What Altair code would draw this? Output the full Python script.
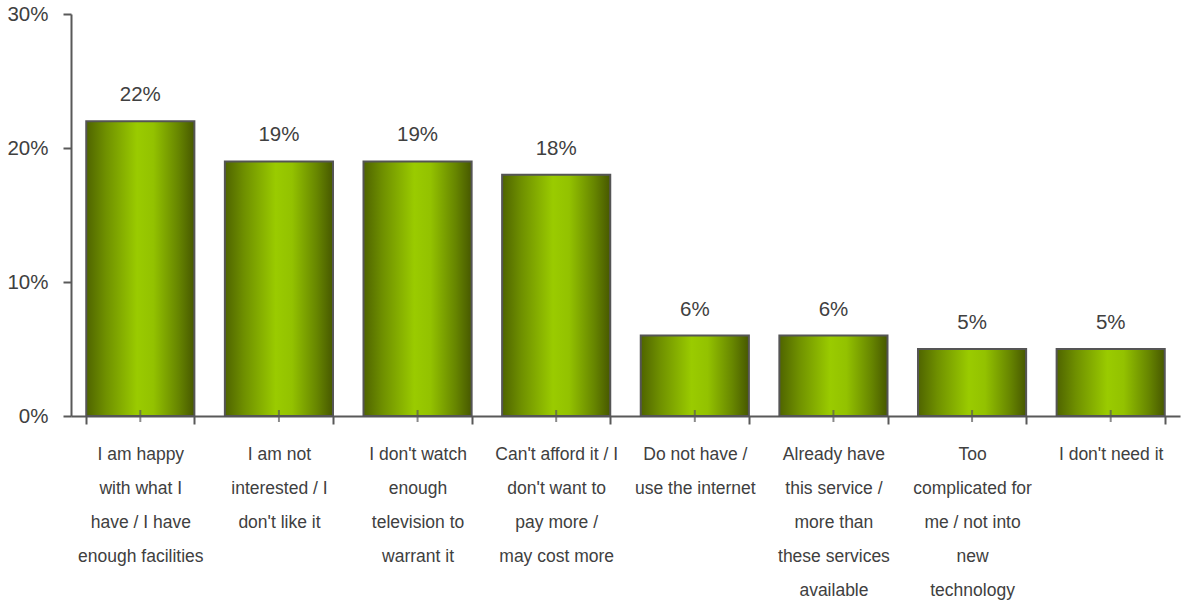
import altair as alt
import pandas as pd

categories = [
    "I am happy\nwith what I\nhave / I have\nenough facilities",
    "I am not\ninterested / I\ndon't like it",
    "I don't watch\nenough\ntelevision to\nwarrant it",
    "Can't afford it / I\ndon't want to\npay more /\nmay cost more",
    "Do not have /\nuse the internet",
    "Already have\nthis service /\nmore than\nthese services\navailable",
    "Too\ncomplicated for\nme / not into\nnew\ntechnology",
    "I don't need it",
]
values = [22, 19, 19, 18, 6, 6, 5, 5]
y_ticks = [0, 10, 20, 30]

df = pd.DataFrame({"cat": categories, "val": values})
df["lab"] = df["val"].astype(str) + "%"

FONT = "Liberation Sans, Arial, sans-serif"
TXT = "#404040"
AX = "#595959"

gradient = alt.Gradient(
    gradient="linear",
    x1=0, x2=1, y1=0, y2=0,
    stops=[
        alt.GradientStop(offset=0, color="#4f6400"),
        alt.GradientStop(offset=0.18, color="#6f9000"),
        alt.GradientStop(offset=0.47, color="#9acb00"),
        alt.GradientStop(offset=0.62, color="#93c200"),
        alt.GradientStop(offset=0.85, color="#678600"),
        alt.GradientStop(offset=1, color="#475800"),
    ],
)

x = alt.X(
    "cat:N",
    sort=categories,
    scale=alt.Scale(paddingInner=0.22, paddingOuter=0.11),
    axis=alt.Axis(
        title=None,
        labelExpr="split(datum.label, '\\n')",
        labelAngle=0,
        labelFont=FONT,
        labelFontSize=17.5,
        labelColor=TXT,
        labelLineHeight=34,
        labelBaseline="top",
        labelPadding=21,
        labelLimit=400,
        tickBand="extent",
        tickSize=8,
        tickColor=AX,
        tickWidth=2,
        domainColor=AX,
        domainWidth=2,
    ),
)

y = alt.Y(
    "val:Q",
    scale=alt.Scale(domain=[0, 30], nice=False),
    axis=alt.Axis(
        title=None,
        values=y_ticks,
        labelExpr="datum.value + '%'",
        labelFont=FONT,
        labelFontSize=20.5,
        labelColor=TXT,
        labelPadding=15,
        tickSize=8,
        tickColor=AX,
        tickWidth=2,
        domainColor=AX,
        domainWidth=2,
        grid=False,
    ),
)

base = alt.Chart(df)

bars = base.mark_bar(fill=gradient, stroke="#555555", strokeWidth=2).encode(x=x, y=y)

center_ticks = base.mark_tick(orient="vertical", size=12, thickness=2, color=AX).encode(
    x=alt.X("cat:N", sort=categories), y=alt.datum(0)
)

labels = base.mark_text(
    dy=-20, baseline="alphabetic", font=FONT, fontSize=20.5, color=TXT
).encode(x=alt.X("cat:N", sort=categories), y="val:Q", text="lab:N")

chart = (
    alt.layer(bars, center_ticks, labels)
    .properties(
        width=1109,
        height=402,
        autosize=alt.AutoSizeParams(type="none"),
        padding={"left": 71, "top": 14, "right": 1, "bottom": 186},
    )
    .configure_view(stroke=None)
)

chart.save("out.html", embed_options={"renderer": "svg", "actions": False})
